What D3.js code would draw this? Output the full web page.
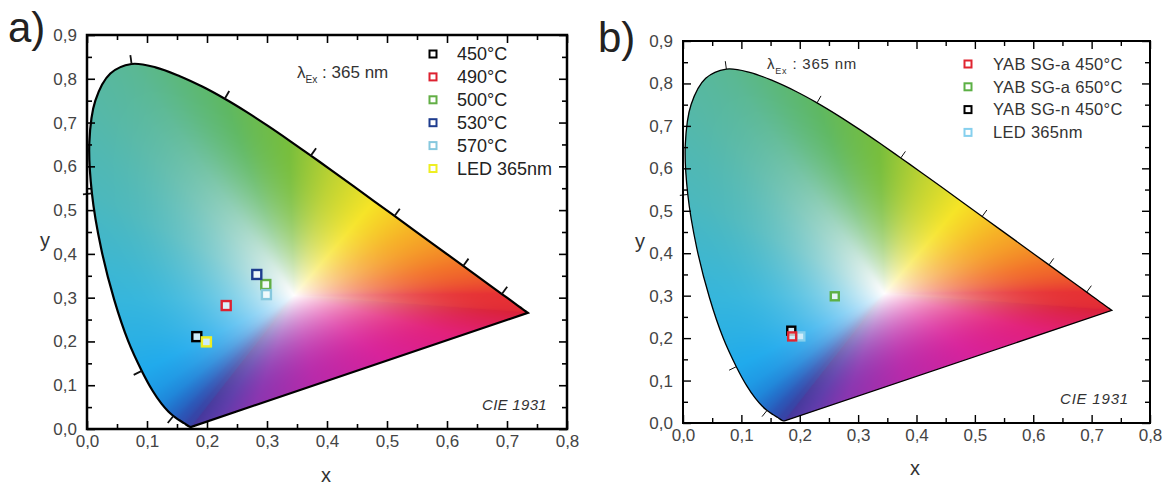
<!DOCTYPE html>
<html><head><meta charset="utf-8">
<script src="https://cdn.jsdelivr.net/npm/d3@7"></script>
<style>
body{margin:0;background:#fff}
svg{display:block}
text{font-family:"Liberation Sans",Arial,sans-serif}
</style>
</head><body>
<svg id="chart" width="1166" height="487"></svg>
<script>
// ---- CIE 1931 spectral locus (2°) ----
const wavelengths=[380,385,390,395,400,405,410,415,420,425,430,435,440,445,450,455,460,465,470,475,480,485,490,495,500,505,510,515,520,525,530,535,540,545,550,555,560,565,570,575,580,585,590,595,600,605,610,615,620,625,630,635,640,645,650,655,660,665,670,680,690,700];
const locusX=[0.1741,0.1740,0.1738,0.1736,0.1733,0.1730,0.1726,0.1721,0.1714,0.1703,0.1689,0.1669,0.1644,0.1611,0.1566,0.1510,0.1440,0.1355,0.1241,0.1096,0.0913,0.0687,0.0454,0.0235,0.0082,0.0039,0.0139,0.0389,0.0743,0.1142,0.1547,0.1929,0.2296,0.2658,0.3016,0.3373,0.3731,0.4087,0.4441,0.4788,0.5125,0.5448,0.5752,0.6029,0.6270,0.6482,0.6658,0.6801,0.6915,0.7006,0.7079,0.7140,0.7190,0.7230,0.7260,0.7283,0.7300,0.7311,0.7320,0.7334,0.7344,0.7347];
const locusY=[0.0050,0.0050,0.0049,0.0049,0.0048,0.0048,0.0048,0.0048,0.0051,0.0058,0.0069,0.0086,0.0109,0.0138,0.0177,0.0227,0.0297,0.0399,0.0578,0.0868,0.1327,0.2007,0.2950,0.4127,0.5384,0.6548,0.7502,0.8120,0.8338,0.8262,0.8059,0.7816,0.7543,0.7243,0.6923,0.6589,0.6245,0.5896,0.5547,0.5202,0.4866,0.4544,0.4242,0.3965,0.3725,0.3514,0.3340,0.3197,0.3083,0.2993,0.2920,0.2859,0.2809,0.2770,0.2740,0.2717,0.2700,0.2689,0.2680,0.2666,0.2656,0.2653];
const locusTickWavelengths=[460,480,500,520,540,560,580,600,620];

// ---- axes ----
const xMajorTicks=[0,0.1,0.2,0.3,0.4,0.5,0.6,0.7,0.8];
const xMinorTicks=[0.05,0.15,0.25,0.35,0.45,0.55,0.65,0.75];
const yMajorTicks=[0,0.1,0.2,0.3,0.4,0.5,0.6,0.7,0.8,0.9];
const yMinorTicks=[0.05,0.15,0.25,0.35,0.45,0.55,0.65,0.75,0.85];
const xTickLabels=["0,0","0,1","0,2","0,3","0,4","0,5","0,6","0,7","0,8"];
const yTickLabels=["0,0","0,1","0,2","0,3","0,4","0,5","0,6","0,7","0,8","0,9"];

// ---- panel a) series ----
const seriesA=["450°C","490°C","500°C","530°C","570°C","LED 365nm"];
const seriesAx=[0.183,0.232,0.298,0.283,0.299,0.199];
const seriesAy=[0.211,0.282,0.330,0.353,0.307,0.199];
const colorsA=["#000000","#dd2230","#62ae45","#1e3c8e","#86c8de","#eeee22"];

// ---- panel b) series ----
const seriesB=["YAB SG-a 450°C","YAB SG-a 650°C","YAB SG-n 450°C","LED 365nm"];
const seriesBx=[0.187,0.260,0.1855,0.201];
const seriesBy=[0.204,0.2985,0.2175,0.204];
const colorsB=["#e02530","#5cb045","#000000","#86d0ee"];

// ---- colour field styling (edge hues of the diagram) ----
const edgeWl=[380,440,455,465,472,480,490,500,510,520,540,555,565,575,585,600,620,700];
const edgeCol=["#44389c","#3446a8","#2a58b8","#2272cc","#1e90e0","#20aaec","#36b6dc","#4cb8bc","#56b8a6","#5ab894","#5eb862","#78be3c","#bcd232","#f6e426","#f6b226","#f27228","#e63234","#da2238"];
const purpleX=[0.7347,0.62,0.5,0.38,0.28,0.22,0.1741];
const purpleCol=["#da2238","#e2207a","#d8229a","#b82aaa","#8a36b0","#5e3caa","#44389c"];
const whitePoint=[0.345,0.305];

const svg=d3.select("#chart");

// boundary polygon with colours
const boundary=[];
wavelengths.forEach((w,i)=>boundary.push({x:locusX[i],y:locusY[i],c:colAtWl(w)}));
for(let k=1;k<purpleX.length-1;k++){
  const t=(purpleX[k]-locusX[0])/(locusX[locusX.length-1]-locusX[0]);
  boundary.push({x:purpleX[k],y:locusY[0]+t*(locusY[locusY.length-1]-locusY[0]),c:d3.rgb(purpleCol[k])});
}
function colAtWl(w){
  for(let k=0;k<edgeWl.length-1;k++){
    if(w>=edgeWl[k]&&w<=edgeWl[k+1]){
      const t=(w-edgeWl[k])/(edgeWl[k+1]-edgeWl[k]);
      return d3.rgb(d3.interpolateRgb(edgeCol[k],edgeCol[k+1])(t));
    }
  }
  return d3.rgb(edgeCol[edgeCol.length-1]);
}
// angle lookup
const NA=4096;const lutD=new Float32Array(NA),lutR=new Float32Array(NA),lutG=new Float32Array(NA),lutB=new Float32Array(NA);
(function(){
  const [wx,wy]=whitePoint;const n=boundary.length;
  for(let a=0;a<NA;a++){
    const th=a/NA*2*Math.PI,dx=Math.cos(th),dy=Math.sin(th);
    let best=1e9,col=null;
    for(let k=0;k<n;k++){
      const A=boundary[k],B=boundary[(k+1)%n];
      const ex=B.x-A.x,ey=B.y-A.y;
      const den=dx*ey-dy*ex; if(Math.abs(den)<1e-12) continue;
      const ax=A.x-wx,ay=A.y-wy;
      const t=(ax*ey-ay*ex)/den, u=(ax*dy-ay*dx)/den;
      if(t>0&&u>=0&&u<=1&&t<best){best=t;
        col=[A.c.r+(B.c.r-A.c.r)*u,A.c.g+(B.c.g-A.c.g)*u,A.c.b+(B.c.b-A.c.b)*u];}
    }
    lutD[a]=best;lutR[a]=col[0];lutG[a]=col[1];lutB[a]=col[2];
  }
})();
function fieldColor(x,y){
  const dx=x-whitePoint[0],dy=y-whitePoint[1];
  let th=Math.atan2(dy,dx);if(th<0)th+=2*Math.PI;
  const a=Math.floor(th/(2*Math.PI)*NA)%NA;
  const s=Math.min(1,Math.hypot(dx,dy)/lutD[a]);
  const f=1-Math.pow(1-s,2.3);
  return [255+(lutR[a]-255)*f,253+(lutG[a]-253)*f,254+(lutB[a]-254)*f];
}

function drawPanel(cfg,names,xs,ys,colors){
  const x=d3.scaleLinear().domain([0,0.8]).range([cfg.x0,cfg.x1]);
  const y=d3.scaleLinear().domain([0,0.9]).range([cfg.y0,cfg.y1]);
  const g=svg.append("g");
  const pts=wavelengths.map((w,i)=>[x(locusX[i]),y(locusY[i])]);
  const id="clip"+cfg.id;
  const locusPath=d3.line().curve(d3.curveCatmullRom)(pts)+"Z";
  g.append("clipPath").attr("id",id).append("path").attr("d",locusPath);
  const W=Math.ceil(cfg.x1-cfg.x0),H=Math.ceil(cfg.y0-cfg.y1);
  const cv=document.createElement("canvas");cv.width=W;cv.height=H;
  const ctx=cv.getContext("2d");const img=ctx.createImageData(W,H);
  for(let j=0;j<H;j++){for(let i=0;i<W;i++){
    const c=fieldColor(x.invert(cfg.x0+i+0.5),y.invert(cfg.y1+j+0.5));const k=(j*W+i)*4;
    img.data[k]=c[0];img.data[k+1]=c[1];img.data[k+2]=c[2];img.data[k+3]=255;
  }}
  ctx.putImageData(img,0,0);
  g.append("image").attr("href",cv.toDataURL()).attr("x",cfg.x0).attr("y",cfg.y1)
    .attr("width",W).attr("height",H).attr("preserveAspectRatio","none").attr("clip-path","url(#"+id+")");
  g.append("path").attr("d",locusPath).attr("fill","none").attr("stroke","#000").attr("stroke-width",cfg.locusW);
  locusTickWavelengths.forEach(w=>{
    const i=wavelengths.indexOf(w);
    const p=pts[i],a=pts[i-1],b=pts[i+1];
    let dx=b[0]-a[0],dy=b[1]-a[1];const L=Math.hypot(dx,dy);dx/=L;dy/=L;
    const nx=dy,ny=-dx;
    g.append("line").attr("x1",p[0]).attr("y1",p[1]).attr("x2",p[0]+nx*cfg.tickLen).attr("y2",p[1]+ny*cfg.tickLen)
      .attr("stroke","#111").attr("stroke-width",cfg.locusTickW);
  });
  const axStyle=sel=>{sel.select(".domain").remove();sel.selectAll("line").attr("stroke","#000").attr("stroke-width",cfg.tickW);
    sel.selectAll("text").attr("font-size",cfg.tickFont).attr("fill",cfg.labelColor).attr("font-family",'"Liberation Sans",Arial,sans-serif');};
  g.append("g").attr("transform",`translate(0,${cfg.y0})`).call(d3.axisBottom(x).tickValues(xMajorTicks).tickSize(-8).tickPadding(cfg.xPad).tickFormat((d,i)=>xTickLabels[i])).call(axStyle);
  g.append("g").attr("transform",`translate(0,${cfg.y0})`).call(d3.axisBottom(x).tickValues(xMinorTicks).tickSize(-5).tickFormat("")).call(axStyle);
  g.append("g").attr("transform",`translate(0,${cfg.y1})`).call(d3.axisTop(x).tickValues(xMajorTicks).tickSize(-8).tickFormat("")).call(axStyle);
  g.append("g").attr("transform",`translate(0,${cfg.y1})`).call(d3.axisTop(x).tickValues(xMinorTicks).tickSize(-5).tickFormat("")).call(axStyle);
  g.append("g").attr("transform",`translate(${cfg.x0},0)`).call(d3.axisLeft(y).tickValues(yMajorTicks).tickSize(-8).tickPadding(cfg.yPad).tickFormat((d,i)=>yTickLabels[i])).call(axStyle);
  g.append("g").attr("transform",`translate(${cfg.x0},0)`).call(d3.axisLeft(y).tickValues(yMinorTicks).tickSize(-5).tickFormat("")).call(axStyle);
  g.append("g").attr("transform",`translate(${cfg.x1},0)`).call(d3.axisRight(y).tickValues(yMajorTicks).tickSize(-8).tickFormat("")).call(axStyle);
  g.append("g").attr("transform",`translate(${cfg.x1},0)`).call(d3.axisRight(y).tickValues(yMinorTicks).tickSize(-5).tickFormat("")).call(axStyle);
  g.append("rect").attr("x",cfg.x0).attr("y",cfg.y1).attr("width",cfg.x1-cfg.x0).attr("height",cfg.y0-cfg.y1)
    .attr("fill","none").attr("stroke","#000").attr("stroke-width",cfg.frameW);
  g.append("text").attr("x",cfg.xTitle[0]).attr("y",cfg.xTitle[1]).attr("text-anchor","middle").attr("font-size",20).attr("fill","#333").text("x");
  g.append("text").attr("x",cfg.yTitle[0]).attr("y",cfg.yTitle[1]).attr("text-anchor","middle").attr("font-size",20).attr("fill","#333").text("y");
  g.append("text").attr("x",cfg.label[0]).attr("y",cfg.label[1]).attr("font-size",42).attr("fill","#222").text(cfg.labelText);
  const lt=g.append("text").attr("x",cfg.lam[0]).attr("y",cfg.lam[1]).attr("font-size",cfg.lamFont).attr("fill","#333").attr("letter-spacing",cfg.lamLs);
  lt.append("tspan").text("λ");
  lt.append("tspan").attr("font-size",cfg.lamFont*0.6).attr("dy",5).text("Ex");
  lt.append("tspan").attr("dy",-5).text(" : 365 nm");
  g.append("text").attr("x",cfg.cie[0]).attr("y",cfg.cie[1]).attr("font-size",15).attr("font-style","italic").attr("fill","#333").attr("letter-spacing",cfg.cieLs).text("CIE 1931");
  cfg.order.forEach(i=>{
    g.append("rect").attr("x",x(xs[i])-cfg.ms/2).attr("y",y(ys[i])-cfg.ms/2).attr("width",cfg.ms).attr("height",cfg.ms)
      .attr("fill","#fff").attr("fill-opacity",0.75).attr("stroke",colors[i]).attr("stroke-width",2.4);
  });
  names.forEach((n,i)=>{
    const ly=cfg.leg[1]+i*cfg.legStep;
    g.append("rect").attr("x",cfg.leg[0]-3.5).attr("y",ly-3.5).attr("width",7).attr("height",7)
      .attr("fill","#fff").attr("stroke",colors[i]).attr("stroke-width",2);
    g.append("text").attr("x",cfg.leg[0]+cfg.legTextDx).attr("y",ly).attr("dy","0.35em").attr("font-size",cfg.legFont)
      .attr("fill",cfg.legColor).attr("letter-spacing",cfg.legLs).text(n);
  });
}

drawPanel({id:"a",x0:87,x1:567,y0:429,y1:35,locusW:2.2,locusTickW:1.8,tickLen:9,tickW:1.6,frameW:2.5,tickFont:17,labelColor:"#444",
  xPad:6,yPad:10,xTitle:[326,482],yTitle:[45,247],label:[8,42],labelText:"a)",lam:[297,78],lamFont:17,lamLs:0,
  cie:[482,410],cieLs:0.3,ms:9,order:[0,1,2,3,4,5],leg:[433,54],legStep:22.9,legTextDx:24,legFont:18,legColor:"#222",legLs:0},
  seriesA,seriesAx,seriesAy,colorsA);
drawPanel({id:"b",x0:683,x1:1150,y0:423,y1:41,locusW:1.3,locusTickW:1,tickLen:8,tickW:1.4,frameW:2,tickFont:17,labelColor:"#444",
  xPad:6,yPad:10,xTitle:[915,475],yTitle:[640,248],label:[598,52],labelText:"b)",lam:[767,69],lamFont:15,lamLs:0.8,
  cie:[1060,404],cieLs:0.8,ms:8,order:[3,2,1,0],leg:[968,64],legStep:22.8,legTextDx:25,legFont:16.5,legColor:"#333",legLs:0.3},
  seriesB,seriesBx,seriesBy,colorsB);
</script>
</body></html>
